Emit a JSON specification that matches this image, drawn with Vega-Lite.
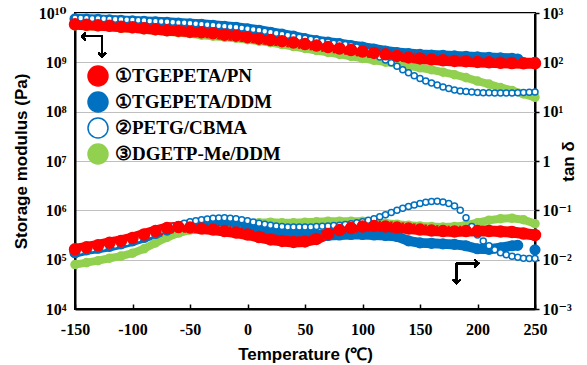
{
  "$schema": "https://vega.github.io/schema/vega-lite/v6.json",
  "width": 460,
  "height": 296,
  "autosize": {"type": "none"},
  "padding": {"left": 75, "top": 13, "right": 52, "bottom": 56},
  "background": "white",
  "config": {
    "view": {"stroke": "black", "strokeWidth": 2},
    "legend": {
      "symbolSize": 400,
      "symbolStrokeWidth": 1.5,
      "labelFont": "Liberation Serif, Times New Roman, DejaVu Serif, serif",
      "labelFontWeight": "bold",
      "labelFontSize": 19,
      "labelColor": "black",
      "rowPadding": 0,
      "labelOffset": 6,
      "labelLimit": 300
    }
  },
  "data": {
    "values": [
      {"s": "③DGETP-Me/DDM", "T": -150, "E": 5.50e9, "tand": 0.00794},
      {"s": "③DGETP-Me/DDM", "T": -140, "E": 5.37e9, "tand": 0.00871},
      {"s": "③DGETP-Me/DDM", "T": -130, "E": 5.25e9, "tand": 0.00955},
      {"s": "③DGETP-Me/DDM", "T": -120, "E": 5.13e9, "tand": 0.0107},
      {"s": "③DGETP-Me/DDM", "T": -110, "E": 4.90e9, "tand": 0.0118},
      {"s": "③DGETP-Me/DDM", "T": -100, "E": 4.79e9, "tand": 0.0135},
      {"s": "③DGETP-Me/DDM", "T": -90, "E": 4.57e9, "tand": 0.0166},
      {"s": "③DGETP-Me/DDM", "T": -80, "E": 4.37e9, "tand": 0.0219},
      {"s": "③DGETP-Me/DDM", "T": -70, "E": 4.17e9, "tand": 0.0282},
      {"s": "③DGETP-Me/DDM", "T": -60, "E": 3.98e9, "tand": 0.0347},
      {"s": "③DGETP-Me/DDM", "T": -50, "E": 3.80e9, "tand": 0.0398},
      {"s": "③DGETP-Me/DDM", "T": -40, "E": 3.55e9, "tand": 0.0427},
      {"s": "③DGETP-Me/DDM", "T": -30, "E": 3.39e9, "tand": 0.0447},
      {"s": "③DGETP-Me/DDM", "T": -20, "E": 3.24e9, "tand": 0.0468},
      {"s": "③DGETP-Me/DDM", "T": -10, "E": 3.09e9, "tand": 0.0490},
      {"s": "③DGETP-Me/DDM", "T": 0, "E": 2.88e9, "tand": 0.0525},
      {"s": "③DGETP-Me/DDM", "T": 10, "E": 2.69e9, "tand": 0.0562},
      {"s": "③DGETP-Me/DDM", "T": 20, "E": 2.51e9, "tand": 0.0575},
      {"s": "③DGETP-Me/DDM", "T": 30, "E": 2.29e9, "tand": 0.0562},
      {"s": "③DGETP-Me/DDM", "T": 40, "E": 2.09e9, "tand": 0.0562},
      {"s": "③DGETP-Me/DDM", "T": 50, "E": 1.91e9, "tand": 0.0575},
      {"s": "③DGETP-Me/DDM", "T": 60, "E": 1.74e9, "tand": 0.0589},
      {"s": "③DGETP-Me/DDM", "T": 70, "E": 1.59e9, "tand": 0.0603},
      {"s": "③DGETP-Me/DDM", "T": 80, "E": 1.45e9, "tand": 0.0603},
      {"s": "③DGETP-Me/DDM", "T": 90, "E": 1.32e9, "tand": 0.0603},
      {"s": "③DGETP-Me/DDM", "T": 100, "E": 1.20e9, "tand": 0.0603},
      {"s": "③DGETP-Me/DDM", "T": 110, "E": 1.10e9, "tand": 0.0575},
      {"s": "③DGETP-Me/DDM", "T": 120, "E": 1.01e9, "tand": 0.0550},
      {"s": "③DGETP-Me/DDM", "T": 130, "E": 9.33e8, "tand": 0.0525},
      {"s": "③DGETP-Me/DDM", "T": 140, "E": 8.51e8, "tand": 0.0501},
      {"s": "③DGETP-Me/DDM", "T": 150, "E": 7.76e8, "tand": 0.0479},
      {"s": "③DGETP-Me/DDM", "T": 160, "E": 7.08e8, "tand": 0.0468},
      {"s": "③DGETP-Me/DDM", "T": 170, "E": 6.31e8, "tand": 0.0457},
      {"s": "③DGETP-Me/DDM", "T": 180, "E": 5.62e8, "tand": 0.0468},
      {"s": "③DGETP-Me/DDM", "T": 190, "E": 4.90e8, "tand": 0.0501},
      {"s": "③DGETP-Me/DDM", "T": 200, "E": 4.17e8, "tand": 0.0562},
      {"s": "③DGETP-Me/DDM", "T": 210, "E": 3.63e8, "tand": 0.0631},
      {"s": "③DGETP-Me/DDM", "T": 220, "E": 3.09e8, "tand": 0.0676},
      {"s": "③DGETP-Me/DDM", "T": 230, "E": 2.69e8, "tand": 0.0692},
      {"s": "③DGETP-Me/DDM", "T": 240, "E": 2.29e8, "tand": 0.0646},
      {"s": "③DGETP-Me/DDM", "T": 250, "E": 1.95e8, "tand": 0.0537},

      {"s": "①TGEPETA/DDM", "T": -150, "E": 7.59e9, "tand": 0.0138},
      {"s": "①TGEPETA/DDM", "T": -140, "E": 7.50e9, "tand": 0.0158},
      {"s": "①TGEPETA/DDM", "T": -130, "E": 7.41e9, "tand": 0.0170},
      {"s": "①TGEPETA/DDM", "T": -120, "E": 7.24e9, "tand": 0.0186},
      {"s": "①TGEPETA/DDM", "T": -110, "E": 7.08e9, "tand": 0.0209},
      {"s": "①TGEPETA/DDM", "T": -100, "E": 6.92e9, "tand": 0.0240},
      {"s": "①TGEPETA/DDM", "T": -90, "E": 6.76e9, "tand": 0.0282},
      {"s": "①TGEPETA/DDM", "T": -80, "E": 6.61e9, "tand": 0.0339},
      {"s": "①TGEPETA/DDM", "T": -70, "E": 6.46e9, "tand": 0.0398},
      {"s": "①TGEPETA/DDM", "T": -60, "E": 6.24e9, "tand": 0.0468},
      {"s": "①TGEPETA/DDM", "T": -50, "E": 6.03e9, "tand": 0.0525},
      {"s": "①TGEPETA/DDM", "T": -40, "E": 5.89e9, "tand": 0.0550},
      {"s": "①TGEPETA/DDM", "T": -30, "E": 5.62e9, "tand": 0.0562},
      {"s": "①TGEPETA/DDM", "T": -20, "E": 5.37e9, "tand": 0.0562},
      {"s": "①TGEPETA/DDM", "T": -10, "E": 5.13e9, "tand": 0.0537},
      {"s": "①TGEPETA/DDM", "T": 0, "E": 4.79e9, "tand": 0.0490},
      {"s": "①TGEPETA/DDM", "T": 10, "E": 4.47e9, "tand": 0.0437},
      {"s": "①TGEPETA/DDM", "T": 20, "E": 4.07e9, "tand": 0.0398},
      {"s": "①TGEPETA/DDM", "T": 30, "E": 3.72e9, "tand": 0.0372},
      {"s": "①TGEPETA/DDM", "T": 40, "E": 3.39e9, "tand": 0.0363},
      {"s": "①TGEPETA/DDM", "T": 50, "E": 3.02e9, "tand": 0.0347},
      {"s": "①TGEPETA/DDM", "T": 60, "E": 2.75e9, "tand": 0.0324},
      {"s": "①TGEPETA/DDM", "T": 70, "E": 2.57e9, "tand": 0.0309},
      {"s": "①TGEPETA/DDM", "T": 80, "E": 2.40e9, "tand": 0.0316},
      {"s": "①TGEPETA/DDM", "T": 90, "E": 2.19e9, "tand": 0.0324},
      {"s": "①TGEPETA/DDM", "T": 100, "E": 2.04e9, "tand": 0.0324},
      {"s": "①TGEPETA/DDM", "T": 110, "E": 1.86e9, "tand": 0.0316},
      {"s": "①TGEPETA/DDM", "T": 120, "E": 1.70e9, "tand": 0.0309},
      {"s": "①TGEPETA/DDM", "T": 130, "E": 1.58e9, "tand": 0.0295},
      {"s": "①TGEPETA/DDM", "T": 140, "E": 1.51e9, "tand": 0.0240},
      {"s": "①TGEPETA/DDM", "T": 150, "E": 1.45e9, "tand": 0.0219},
      {"s": "①TGEPETA/DDM", "T": 160, "E": 1.41e9, "tand": 0.0214},
      {"s": "①TGEPETA/DDM", "T": 170, "E": 1.38e9, "tand": 0.0209},
      {"s": "①TGEPETA/DDM", "T": 180, "E": 1.35e9, "tand": 0.0204},
      {"s": "①TGEPETA/DDM", "T": 190, "E": 1.32e9, "tand": 0.0191},
      {"s": "①TGEPETA/DDM", "T": 200, "E": 1.29e9, "tand": 0.0166},
      {"s": "①TGEPETA/DDM", "T": 210, "E": 1.26e9, "tand": 0.0162},
      {"s": "①TGEPETA/DDM", "T": 220, "E": 1.23e9, "tand": 0.0174},
      {"s": "①TGEPETA/DDM", "T": 230, "E": 1.20e9, "tand": 0.0191},
      {"s": "①TGEPETA/DDM", "T": 235, "E": 1.17e9, "tand": 0.0195},
      {"s": "①TGEPETA/DDM", "T": 250, "E": 1.00e9, "tand": 0.0158},

      {"s": "②PETG/CBMA", "T": -150, "E": 7.94e9, "tand": 0.0138},
      {"s": "②PETG/CBMA", "T": -145, "E": 7.94e9, "tand": 0.0148},
      {"s": "②PETG/CBMA", "T": -140, "E": 7.85e9, "tand": 0.0158},
      {"s": "②PETG/CBMA", "T": -135, "E": 7.76e9, "tand": 0.0164},
      {"s": "②PETG/CBMA", "T": -130, "E": 7.76e9, "tand": 0.0170},
      {"s": "②PETG/CBMA", "T": -125, "E": 7.67e9, "tand": 0.0178},
      {"s": "②PETG/CBMA", "T": -120, "E": 7.59e9, "tand": 0.0186},
      {"s": "②PETG/CBMA", "T": -115, "E": 7.50e9, "tand": 0.0195},
      {"s": "②PETG/CBMA", "T": -110, "E": 7.41e9, "tand": 0.0204},
      {"s": "②PETG/CBMA", "T": -105, "E": 7.33e9, "tand": 0.0219},
      {"s": "②PETG/CBMA", "T": -100, "E": 7.24e9, "tand": 0.0240},
      {"s": "②PETG/CBMA", "T": -95, "E": 7.16e9, "tand": 0.0263},
      {"s": "②PETG/CBMA", "T": -90, "E": 7.08e9, "tand": 0.0288},
      {"s": "②PETG/CBMA", "T": -85, "E": 6.92e9, "tand": 0.0316},
      {"s": "②PETG/CBMA", "T": -80, "E": 6.84e9, "tand": 0.0355},
      {"s": "②PETG/CBMA", "T": -75, "E": 6.76e9, "tand": 0.0389},
      {"s": "②PETG/CBMA", "T": -70, "E": 6.61e9, "tand": 0.0427},
      {"s": "②PETG/CBMA", "T": -65, "E": 6.46e9, "tand": 0.0468},
      {"s": "②PETG/CBMA", "T": -60, "E": 6.38e9, "tand": 0.0513},
      {"s": "②PETG/CBMA", "T": -55, "E": 6.31e9, "tand": 0.0550},
      {"s": "②PETG/CBMA", "T": -50, "E": 6.17e9, "tand": 0.0589},
      {"s": "②PETG/CBMA", "T": -45, "E": 6.03e9, "tand": 0.0617},
      {"s": "②PETG/CBMA", "T": -40, "E": 5.89e9, "tand": 0.0646},
      {"s": "②PETG/CBMA", "T": -35, "E": 5.75e9, "tand": 0.0668},
      {"s": "②PETG/CBMA", "T": -30, "E": 5.62e9, "tand": 0.0692},
      {"s": "②PETG/CBMA", "T": -25, "E": 5.50e9, "tand": 0.0700},
      {"s": "②PETG/CBMA", "T": -20, "E": 5.37e9, "tand": 0.0708},
      {"s": "②PETG/CBMA", "T": -15, "E": 5.25e9, "tand": 0.0692},
      {"s": "②PETG/CBMA", "T": -10, "E": 5.13e9, "tand": 0.0676},
      {"s": "②PETG/CBMA", "T": -5, "E": 4.97e9, "tand": 0.0646},
      {"s": "②PETG/CBMA", "T": 0, "E": 4.79e9, "tand": 0.0617},
      {"s": "②PETG/CBMA", "T": 5, "E": 4.64e9, "tand": 0.0582},
      {"s": "②PETG/CBMA", "T": 10, "E": 4.47e9, "tand": 0.0550},
      {"s": "②PETG/CBMA", "T": 15, "E": 4.27e9, "tand": 0.0525},
      {"s": "②PETG/CBMA", "T": 20, "E": 4.07e9, "tand": 0.0501},
      {"s": "②PETG/CBMA", "T": 25, "E": 3.89e9, "tand": 0.0484},
      {"s": "②PETG/CBMA", "T": 30, "E": 3.72e9, "tand": 0.0468},
      {"s": "②PETG/CBMA", "T": 35, "E": 3.55e9, "tand": 0.0462},
      {"s": "②PETG/CBMA", "T": 40, "E": 3.39e9, "tand": 0.0457},
      {"s": "②PETG/CBMA", "T": 45, "E": 3.24e9, "tand": 0.0457},
      {"s": "②PETG/CBMA", "T": 50, "E": 3.09e9, "tand": 0.0457},
      {"s": "②PETG/CBMA", "T": 55, "E": 2.95e9, "tand": 0.0462},
      {"s": "②PETG/CBMA", "T": 60, "E": 2.82e9, "tand": 0.0468},
      {"s": "②PETG/CBMA", "T": 65, "E": 2.69e9, "tand": 0.0473},
      {"s": "②PETG/CBMA", "T": 70, "E": 2.57e9, "tand": 0.0479},
      {"s": "②PETG/CBMA", "T": 75, "E": 2.45e9, "tand": 0.0490},
      {"s": "②PETG/CBMA", "T": 80, "E": 2.40e9, "tand": 0.0501},
      {"s": "②PETG/CBMA", "T": 85, "E": 2.29e9, "tand": 0.0519},
      {"s": "②PETG/CBMA", "T": 90, "E": 2.19e9, "tand": 0.0537},
      {"s": "②PETG/CBMA", "T": 95, "E": 2.04e9, "tand": 0.0562},
      {"s": "②PETG/CBMA", "T": 100, "E": 1.86e9, "tand": 0.0589},
      {"s": "②PETG/CBMA", "T": 105, "E": 1.66e9, "tand": 0.0631},
      {"s": "②PETG/CBMA", "T": 110, "E": 1.48e9, "tand": 0.0676},
      {"s": "②PETG/CBMA", "T": 115, "E": 1.29e9, "tand": 0.0741},
      {"s": "②PETG/CBMA", "T": 120, "E": 1.12e9, "tand": 0.0813},
      {"s": "②PETG/CBMA", "T": 125, "E": 9.77e8, "tand": 0.0902},
      {"s": "②PETG/CBMA", "T": 130, "E": 8.32e8, "tand": 0.100},
      {"s": "②PETG/CBMA", "T": 135, "E": 7.08e8, "tand": 0.110},
      {"s": "②PETG/CBMA", "T": 140, "E": 6.17e8, "tand": 0.120},
      {"s": "②PETG/CBMA", "T": 145, "E": 5.37e8, "tand": 0.129},
      {"s": "②PETG/CBMA", "T": 150, "E": 4.68e8, "tand": 0.138},
      {"s": "②PETG/CBMA", "T": 155, "E": 4.17e8, "tand": 0.145},
      {"s": "②PETG/CBMA", "T": 160, "E": 3.80e8, "tand": 0.151},
      {"s": "②PETG/CBMA", "T": 165, "E": 3.47e8, "tand": 0.153},
      {"s": "②PETG/CBMA", "T": 170, "E": 3.16e8, "tand": 0.148},
      {"s": "②PETG/CBMA", "T": 175, "E": 2.95e8, "tand": 0.138},
      {"s": "②PETG/CBMA", "T": 180, "E": 2.75e8, "tand": 0.123},
      {"s": "②PETG/CBMA", "T": 185, "E": 2.63e8, "tand": 0.100},
      {"s": "②PETG/CBMA", "T": 190, "E": 2.57e8, "tand": 0.0708},
      {"s": "②PETG/CBMA", "T": 195, "E": 2.51e8, "tand": 0.0468},
      {"s": "②PETG/CBMA", "T": 200, "E": 2.45e8, "tand": 0.0316},
      {"s": "②PETG/CBMA", "T": 205, "E": 2.43e8, "tand": 0.0240},
      {"s": "②PETG/CBMA", "T": 210, "E": 2.43e8, "tand": 0.0191},
      {"s": "②PETG/CBMA", "T": 215, "E": 2.40e8, "tand": 0.0158},
      {"s": "②PETG/CBMA", "T": 220, "E": 2.40e8, "tand": 0.0138},
      {"s": "②PETG/CBMA", "T": 225, "E": 2.40e8, "tand": 0.0126},
      {"s": "②PETG/CBMA", "T": 230, "E": 2.40e8, "tand": 0.0117},
      {"s": "②PETG/CBMA", "T": 235, "E": 2.43e8, "tand": 0.0112},
      {"s": "②PETG/CBMA", "T": 240, "E": 2.45e8, "tand": 0.0107},
      {"s": "②PETG/CBMA", "T": 245, "E": 2.48e8, "tand": 0.0105},
      {"s": "②PETG/CBMA", "T": 250, "E": 2.51e8, "tand": 0.0105},

      {"s": "①TGEPETA/PN", "T": -150, "E": 5.89e9, "tand": 0.0162},
      {"s": "①TGEPETA/PN", "T": -140, "E": 5.75e9, "tand": 0.0178},
      {"s": "①TGEPETA/PN", "T": -130, "E": 5.62e9, "tand": 0.0195},
      {"s": "①TGEPETA/PN", "T": -120, "E": 5.50e9, "tand": 0.0219},
      {"s": "①TGEPETA/PN", "T": -110, "E": 5.25e9, "tand": 0.0240},
      {"s": "①TGEPETA/PN", "T": -100, "E": 5.13e9, "tand": 0.0275},
      {"s": "①TGEPETA/PN", "T": -90, "E": 4.90e9, "tand": 0.0324},
      {"s": "①TGEPETA/PN", "T": -80, "E": 4.68e9, "tand": 0.0380},
      {"s": "①TGEPETA/PN", "T": -70, "E": 4.47e9, "tand": 0.0437},
      {"s": "①TGEPETA/PN", "T": -60, "E": 4.37e9, "tand": 0.0457},
      {"s": "①TGEPETA/PN", "T": -50, "E": 4.17e9, "tand": 0.0447},
      {"s": "①TGEPETA/PN", "T": -40, "E": 4.07e9, "tand": 0.0427},
      {"s": "①TGEPETA/PN", "T": -30, "E": 3.89e9, "tand": 0.0407},
      {"s": "①TGEPETA/PN", "T": -20, "E": 3.63e9, "tand": 0.0380},
      {"s": "①TGEPETA/PN", "T": -10, "E": 3.47e9, "tand": 0.0355},
      {"s": "①TGEPETA/PN", "T": 0, "E": 3.24e9, "tand": 0.0324},
      {"s": "①TGEPETA/PN", "T": 10, "E": 3.02e9, "tand": 0.0288},
      {"s": "①TGEPETA/PN", "T": 20, "E": 2.82e9, "tand": 0.0257},
      {"s": "①TGEPETA/PN", "T": 30, "E": 2.69e9, "tand": 0.0240},
      {"s": "①TGEPETA/PN", "T": 40, "E": 2.51e9, "tand": 0.0229},
      {"s": "①TGEPETA/PN", "T": 50, "E": 2.34e9, "tand": 0.0234},
      {"s": "①TGEPETA/PN", "T": 60, "E": 2.19e9, "tand": 0.0263},
      {"s": "①TGEPETA/PN", "T": 70, "E": 2.04e9, "tand": 0.0331},
      {"s": "①TGEPETA/PN", "T": 80, "E": 1.91e9, "tand": 0.0398},
      {"s": "①TGEPETA/PN", "T": 90, "E": 1.78e9, "tand": 0.0437},
      {"s": "①TGEPETA/PN", "T": 100, "E": 1.66e9, "tand": 0.0468},
      {"s": "①TGEPETA/PN", "T": 110, "E": 1.55e9, "tand": 0.0479},
      {"s": "①TGEPETA/PN", "T": 120, "E": 1.45e9, "tand": 0.0468},
      {"s": "①TGEPETA/PN", "T": 130, "E": 1.35e9, "tand": 0.0447},
      {"s": "①TGEPETA/PN", "T": 140, "E": 1.26e9, "tand": 0.0427},
      {"s": "①TGEPETA/PN", "T": 150, "E": 1.20e9, "tand": 0.0407},
      {"s": "①TGEPETA/PN", "T": 160, "E": 1.15e9, "tand": 0.0389},
      {"s": "①TGEPETA/PN", "T": 170, "E": 1.10e9, "tand": 0.0380},
      {"s": "①TGEPETA/PN", "T": 180, "E": 1.07e9, "tand": 0.0372},
      {"s": "①TGEPETA/PN", "T": 190, "E": 1.05e9, "tand": 0.0380},
      {"s": "①TGEPETA/PN", "T": 200, "E": 1.02e9, "tand": 0.0380},
      {"s": "①TGEPETA/PN", "T": 210, "E": 1.00e9, "tand": 0.0380},
      {"s": "①TGEPETA/PN", "T": 220, "E": 9.77e8, "tand": 0.0372},
      {"s": "①TGEPETA/PN", "T": 230, "E": 9.66e8, "tand": 0.0363},
      {"s": "①TGEPETA/PN", "T": 240, "E": 9.55e8, "tand": 0.0339},
      {"s": "①TGEPETA/PN", "T": 250, "E": 9.55e8, "tand": 0.0316}
    ]
  },
  "layer": [
    {
      "encoding": {
        "x": {
          "field": "T", "type": "quantitative",
          "scale": {"domain": [-150, 250], "nice": false, "zero": false},
          "axis": {
            "values": [-150, -100, -50, 0, 50, 100, 150, 200, 250],
            "labelExpr": "replace(datum.label, '−', '-')",
            "title": "Temperature (℃)",
            "titleFont": "Liberation Sans, Arial, sans-serif", "titleFontWeight": "bold", "titleFontSize": 17, "titleColor": "black", "titlePadding": 9,
            "labelFont": "Liberation Serif, Times New Roman, DejaVu Serif, serif", "labelFontWeight": "bold", "labelFontSize": 16, "labelColor": "black",
            "labelFlush": false, "grid": false,
            "domainColor": "black", "domainWidth": 2,
            "tickColor": "black", "tickWidth": 1.5, "tickSize": -5, "labelPadding": 17
          }
        },
        "y": {
          "field": "E", "type": "quantitative",
          "scale": {"type": "log", "domain": [1e4, 1e10], "nice": false},
          "axis": {
            "orient": "left",
            "values": [1e4, 1e5, 1e6, 1e7, 1e8, 1e9, 1e10],
            "labelExpr": "['10⁴','10⁵','10⁶','10⁷','10⁸','10⁹','10¹⁰'][round(log(datum.value)/LN10)-4]",
            "title": "Storage modulus (Pa)",
            "titleFont": "Liberation Sans, Arial, sans-serif", "titleFontWeight": "bold", "titleFontSize": 17, "titleColor": "black", "titlePadding": 8,
            "labelFont": "Liberation Serif, Times New Roman, DejaVu Serif, serif", "labelFontWeight": "bold", "labelFontSize": 16, "labelColor": "black",
            "labelFlush": false,
            "grid": true, "gridColor": "#bfbfbf", "gridWidth": 1,
            "ticks": false, "labelPadding": 9,
            "domainColor": "black", "domainWidth": 2
          }
        }
      },
      "layer": [
        {
          "transform": [{"filter": "datum.s != '②PETG/CBMA' && (datum.s != '①TGEPETA/DDM' || datum.T < 250)"}],
          "mark": {"type": "line", "strokeCap": "round", "strokeJoin": "round"},
          "encoding": {
            "color": {"field": "s", "type": "nominal", "legend": null,
              "scale": {"domain": ["③DGETP-Me/DDM", "②PETG/CBMA", "①TGEPETA/DDM", "①TGEPETA/PN"], "range": ["#92d050", "#0070c0", "#0070c0", "#ff0000"]}},
            "strokeWidth": {"field": "s", "type": "nominal", "legend": null,
              "scale": {"type": "point", "domain": ["③DGETP-Me/DDM", "②PETG/CBMA", "①TGEPETA/DDM", "①TGEPETA/PN"], "range": [8, 11]}}
          }
        },
        {
          "mark": {"type": "point", "shape": "circle", "filled": true, "opacity": 1, "strokeWidth": 1.5},
          "encoding": {
            "fill": {"field": "s", "type": "nominal", "title": null,
              "scale": {"domain": ["①TGEPETA/PN", "①TGEPETA/DDM", "②PETG/CBMA", "③DGETP-Me/DDM"], "range": ["#ff0000", "#0070c0", "#ffffff", "#92d050"]},
              "legend": {"orient": "none", "legendX": 12, "legendY": 52}},
            "stroke": {"field": "s", "type": "nominal", "title": null,
              "scale": {"domain": ["①TGEPETA/PN", "①TGEPETA/DDM", "②PETG/CBMA", "③DGETP-Me/DDM"], "range": ["#ff0000", "#0070c0", "#0070c0", "#92d050"]},
              "legend": {"orient": "none", "legendX": 12, "legendY": 52}},
            "size": {"field": "s", "type": "nominal", "legend": null,
              "scale": {"type": "point", "domain": ["②PETG/CBMA", "③DGETP-Me/DDM", "①TGEPETA/DDM", "①TGEPETA/PN"], "range": [36, 121]}}
          }
        },
        {
          "mark": {"type": "rule", "color": "black", "strokeWidth": 1.5},
          "encoding": {"x": {"datum": -143.9}, "x2": {"datum": -126.3}, "y": {"datum": 3.38e9}}
        },
        {
          "mark": {"type": "rule", "color": "black", "strokeWidth": 1.5},
          "encoding": {"x": {"datum": -126.3}, "y": {"datum": 3.38e9}, "y2": {"datum": 1.32e9}}
        },
        {
          "mark": {"type": "point", "shape": "M1,-1L0,0L1,1", "filled": false, "opacity": 1, "stroke": "black", "strokeWidth": 1.5, "size": 50},
          "encoding": {"x": {"datum": -143.9}, "y": {"datum": 3.38e9}}
        },
        {
          "mark": {"type": "point", "shape": "M-1,-1L0,0L1,-1", "filled": false, "opacity": 1, "stroke": "black", "strokeWidth": 1.5, "size": 50},
          "encoding": {"x": {"datum": -126.3}, "y": {"datum": 1.32e9}}
        }
      ]
    },
    {
      "encoding": {
        "x": {"field": "T", "type": "quantitative"},
        "y": {
          "field": "tand", "type": "quantitative",
          "scale": {"type": "log", "domain": [1e-3, 1e3], "nice": false},
          "axis": {
            "orient": "right",
            "values": [1e-3, 1e-2, 1e-1, 1, 10, 100, 1000],
            "labelExpr": "['10⁻³','10⁻²','10⁻¹','1','10¹','10²','10³'][round(log(datum.value)/LN10)+3]",
            "title": "tan δ",
            "titleAngle": 270,
            "titleFont": "Liberation Sans, Arial, sans-serif", "titleFontWeight": "bold", "titleFontSize": 17, "titleColor": "black", "titlePadding": 6,
            "labelFont": "Liberation Serif, Times New Roman, DejaVu Serif, serif", "labelFontWeight": "bold", "labelFontSize": 16, "labelColor": "black",
            "labelFlush": false, "grid": false,
            "ticks": true, "tickSize": 4, "tickColor": "black", "tickWidth": 1.5, "labelPadding": 3,
            "domainColor": "black", "domainWidth": 2
          }
        }
      },
      "layer": [
        {
          "transform": [{"filter": "datum.s != '②PETG/CBMA' && (datum.s != '①TGEPETA/DDM' || datum.T < 250)"}],
          "mark": {"type": "line", "strokeCap": "round", "strokeJoin": "round"},
          "encoding": {
            "color": {"field": "s", "type": "nominal", "legend": null},
            "strokeWidth": {"field": "s", "type": "nominal", "legend": null}
          }
        },
        {
          "mark": {"type": "point", "shape": "circle", "filled": true, "opacity": 1, "strokeWidth": 1.5},
          "encoding": {
            "fill": {"field": "s", "type": "nominal", "title": null},
            "stroke": {"field": "s", "type": "nominal", "title": null},
            "size": {"field": "s", "type": "nominal", "legend": null}
          }
        },
        {
          "mark": {"type": "rule", "color": "black", "strokeWidth": 1.5},
          "encoding": {"x": {"datum": 181.9}, "y": {"datum": 0.00843}, "y2": {"datum": 0.00332}}
        },
        {
          "mark": {"type": "rule", "color": "black", "strokeWidth": 1.5},
          "encoding": {"x": {"datum": 181.9}, "x2": {"datum": 200.7}, "y": {"datum": 0.00843}}
        },
        {
          "mark": {"type": "point", "shape": "M-1,-1L0,0L1,-1", "filled": false, "opacity": 1, "stroke": "black", "strokeWidth": 1.5, "size": 50},
          "encoding": {"x": {"datum": 181.9}, "y": {"datum": 0.00332}}
        },
        {
          "mark": {"type": "point", "shape": "M-1,-1L0,0L-1,1", "filled": false, "opacity": 1, "stroke": "black", "strokeWidth": 1.5, "size": 50},
          "encoding": {"x": {"datum": 200.7}, "y": {"datum": 0.00843}}
        }
      ]
    }
  ],
  "resolve": {"scale": {"y": "independent"}, "axis": {"y": "independent"}}
}
